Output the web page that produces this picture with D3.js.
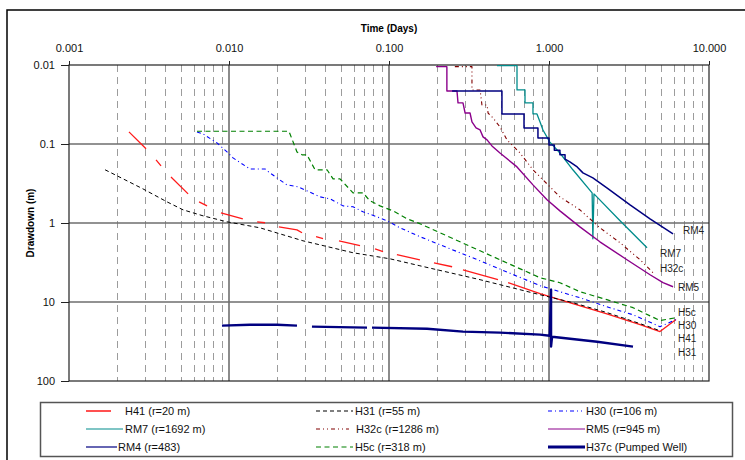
<!DOCTYPE html>
<html>
<head>
<meta charset="utf-8">
<script src="https://cdn.jsdelivr.net/npm/d3@7"></script>
<style>
  body { margin: 0; background: #fff; }
  svg { display: block; }
  text { font-family: "Liberation Sans", Arial, Helvetica, sans-serif; }
</style>
</head>
<body>
<svg id="chart" width="745" height="460"></svg>
<script>
// Axis ticks
const timeTicks = [0.001, 0.01, 0.1, 1, 10];
const drawdownTicks = [0.01, 0.1, 1, 10, 100];

// Observation records: [time (days), drawdown (m)]; null marks a break in the record
const h41 = [
  [0.00237, 0.0703], [0.00303, 0.115], null,
  [0.0035, 0.159], [0.00376, 0.189], null,
  [0.00434, 0.261], [0.00555, 0.428], null,
  [0.0065, 0.540], [0.00729, 0.607], null,
  [0.00891, 0.743], [0.0122, 0.885], null,
  [0.0150, 0.966], [0.0168, 0.993], null,
  [0.0205, 1.12], [0.0266, 1.22], [0.0286, 1.33], null,
  [0.035, 1.49], [0.0387, 1.58], null,
  [0.0487, 1.68], [0.0659, 1.94], null,
  [0.0818, 2.12], [0.0918, 2.31], null,
  [0.112, 2.52], [0.156, 2.92], null,
  [0.191, 3.19], [0.248, 3.58], null,
  [0.290, 3.91], [0.480, 5.22], null,
  [0.555, 5.70], [0.879, 7.85], [1.41, 10.5], [2.30, 14.1], [3.71, 19.4], [4.94, 23.7], [6.22, 16.7]
];

const h31 = [
  [0.00168, 0.212], [0.002, 0.253], [0.0029, 0.370], [0.0041, 0.540], [0.00516, 0.681],
  [0.00688, 0.811], [0.00972, 0.966], [0.0156, 1.15], [0.029, 1.68], [0.0596, 2.38],
  [0.1015, 2.84], [0.156, 3.48], [0.371, 5.22], [0.879, 8.09], [1.41, 10.2],
  [2.30, 13.6], [3.71, 18.8], [4.94, 23.1]
];

const h30 = [
  [0.00631, 0.0703], [0.00688, 0.0745], [0.00841, 0.0968], [0.00972, 0.126], [0.0106, 0.150],
  [0.0135, 0.207], [0.0168, 0.207], [0.018, 0.232], [0.023, 0.329], [0.027, 0.348],
  [0.0307, 0.392], [0.0371, 0.467], [0.0428, 0.494], [0.0516, 0.607], [0.0596, 0.624],
  [0.0688, 0.721], [0.0841, 0.835], [0.0972, 0.937], [0.117, 1.15], [0.156, 1.49],
  [0.371, 3.01], [0.879, 6.22], [1.17, 7.41], [1.56, 8.83], [2.30, 11.5],
  [3.35, 14.5], [4.94, 20.5], [6.22, 16.7]
];

const rm7 = [
  [0.473, 0.0102], [0.631, 0.0102], [0.631, 0.0207], [0.708, 0.0207], [0.708, 0.0302],
  [0.794, 0.0302], [0.794, 0.0416], [0.841, 0.0416], [0.879, 0.0526], [0.917, 0.0664],
  [1.01, 0.094], [1.17, 0.130], [1.41, 0.212], [1.86, 0.415], [1.88, 1.585],
  [1.91, 0.428], [2.78, 0.937], [4.10, 2.06]
];

const h32c = [
  [0.258, 0.0105], [0.330, 0.0105], [0.330, 0.0207], [0.371, 0.0207], [0.381, 0.0321],
  [0.410, 0.0321], [0.416, 0.0405], [0.447, 0.0468], [0.494, 0.0608], [0.546, 0.0887],
  [0.613, 0.112], [0.659, 0.130], [0.794, 0.212], [0.917, 0.284], [1.17, 0.467],
  [1.56, 0.681], [2.08, 1.15], [2.78, 1.78], [3.71, 2.92], [4.47, 4.26]
];

const rm5 = [
  [0.197, 0.0105], [0.230, 0.0105], [0.230, 0.0213], [0.266, 0.0213], [0.270, 0.0302],
  [0.290, 0.0302], [0.299, 0.0405], [0.321, 0.0405], [0.330, 0.0526], [0.350, 0.0625],
  [0.371, 0.0664], [0.387, 0.0813], [0.410, 0.0887], [0.440, 0.1057], [0.494, 0.130],
  [0.631, 0.195], [0.794, 0.329], [0.972, 0.509], [1.17, 0.702], [1.56, 1.12],
  [2.08, 1.73], [3.07, 2.92], [4.28, 4.52], [5.16, 5.70], [5.96, 6.41]
];

const rm4 = [
  [0.248, 0.0213], [0.508, 0.0213], [0.508, 0.0416], [0.698, 0.0416], [0.698, 0.0625],
  [0.853, 0.0625], [0.853, 0.0838], [1.0, 0.0838], [1.0, 0.103], [1.08, 0.103],
  [1.08, 0.120], [1.17, 0.120], [1.17, 0.137], [1.26, 0.137], [1.26, 0.155],
  [1.35, 0.168], [1.50, 0.195], [1.63, 0.232], [1.88, 0.269], [2.30, 0.359],
  [3.21, 0.589], [4.28, 0.885], [5.96, 1.37]
];

const h5c = [
  [0.00631, 0.069], [0.0237, 0.069], [0.0266, 0.126], [0.0286, 0.137], [0.0307, 0.137],
  [0.0345, 0.212], [0.041, 0.212], [0.0447, 0.276], [0.0494, 0.276], [0.0596, 0.415],
  [0.0688, 0.415], [0.076, 0.524], [0.0879, 0.607], [0.106, 0.702], [0.130, 0.885],
  [0.156, 1.02], [0.371, 2.25], [0.879, 4.93], [1.17, 5.70], [1.56, 7.41],
  [2.30, 9.35], [3.35, 11.8], [4.94, 17.2], [6.22, 15.8]
];

const h37c = [
  [0.00904, 19.9], [0.0135, 19.4], [0.020, 19.4], [0.0266, 19.9], null,
  [0.033, 20.5], [0.0729, 21.1], null,
  [0.0783, 21.1], [0.173, 21.8], [0.290, 23.7], [0.494, 24.4], [0.879, 25.9],
  [1.01, 26.7], [1.03, 6.99], [1.03, 36.7], [1.045, 27.5], [2.0, 31.8], [3.35, 36.7]
];

// Legend names in legend order
const legendNames = [
  "H41 (r=20 m)", "H31 (r=55 m)", "H30 (r=106 m)",
  "RM7 (r=1692 m)", "H32c (r=1286 m)", "RM5 (r=945 m)",
  "RM4 (r=483)", "H5c (r=318 m)", "H37c (Pumped Well)"
];

// End-of-curve tags: [text, time, drawdown]
const endTags = [
  ["RM4", 6.88, 1.26], ["RM7", 4.94, 2.45], ["H32c", 4.94, 3.79], ["RM5", 6.40, 6.59],
  ["H5c", 6.40, 13.6], ["H30", 6.40, 19.9], ["H41", 6.40, 29.1], ["H31", 6.40, 43.7]
];

const series = [
  { data: h41,  color: "#ff1a1a", width: 1.3, dash: null },
  { data: h31,  color: "#000000", width: 1,   dash: "4,3" },
  { data: h30,  color: "#0000ff", width: 1.1, dash: "4,3,1,3" },
  { data: rm7,  color: "#008c8c", width: 1.3, dash: null },
  { data: h32c, color: "#800000", width: 1.1, dash: "4,3,1,3,1,3" },
  { data: rm5,  color: "#8b008b", width: 1.4, dash: null },
  { data: rm4,  color: "#000080", width: 1.5, dash: null },
  { data: h5c,  color: "#008000", width: 1.2, dash: "5,3.5" },
  { data: h37c, color: "#000080", width: 2.4, dash: null }
];
series.forEach((s, i) => { s.name = legendNames[i]; });

const svg = d3.select("#chart");
const plot = { left: 69, right: 709, top: 65, bottom: 381 };

const x = d3.scaleLog().domain([0.001, 10]).range([plot.left, plot.right]);
const y = d3.scaleLog().domain([0.01, 100]).range([plot.top, plot.bottom]);

// chart frame
svg.append("rect")
  .attr("x", 7).attr("y", 10).attr("width", 760).attr("height", 470)
  .attr("fill", "#fff").attr("stroke", "#000").attr("stroke-width", 1.5);

// minor vertical gridlines (dashed)
const isMajor = v => timeTicks.some(m => Math.abs(m - v) / m < 1e-9);
const minorTimes = x.ticks().filter(v => !isMajor(v));
svg.append("g").selectAll("line").data(minorTimes).join("line")
  .attr("x1", d => Math.round(x(d)) + 0.5).attr("x2", d => Math.round(x(d)) + 0.5)
  .attr("y1", plot.top).attr("y2", plot.bottom)
  .attr("stroke", "#9c9c9c").attr("stroke-width", 1).attr("stroke-dasharray", "7,5");

// major gridlines
svg.append("g").selectAll("line").data(timeTicks.slice(1, -1)).join("line")
  .attr("x1", d => x(d)).attr("x2", d => x(d))
  .attr("y1", plot.top).attr("y2", plot.bottom)
  .attr("stroke", "#6e6e6e").attr("stroke-width", 1.6);
svg.append("g").selectAll("line").data(drawdownTicks.slice(1, -1)).join("line")
  .attr("x1", plot.left).attr("x2", plot.right)
  .attr("y1", d => y(d)).attr("y2", d => y(d))
  .attr("stroke", "#6e6e6e").attr("stroke-width", 1.6);

// plot border
svg.append("rect")
  .attr("x", plot.left).attr("y", plot.top)
  .attr("width", plot.right - plot.left).attr("height", plot.bottom - plot.top)
  .attr("fill", "none").attr("stroke", "#222").attr("stroke-width", 1.2);

// axes
const topAxis = svg.append("g").attr("transform", `translate(0,${plot.top})`)
  .call(d3.axisTop(x).tickValues(timeTicks).tickFormat(d3.format(".3f")).tickSize(4).tickPadding(9));
const leftAxis = svg.append("g").attr("transform", `translate(${plot.left},0)`)
  .call(d3.axisLeft(y).tickValues(drawdownTicks).tickFormat(d => String(d)).tickSize(8).tickPadding(6));
[topAxis, leftAxis].forEach(g => {
  g.select(".domain").remove();
  g.selectAll(".tick line").attr("stroke", "#222");
  g.selectAll(".tick text").attr("font-size", 11).attr("fill", "#111")
    .attr("font-family", "\"Liberation Sans\", Arial, sans-serif");
});

// axis titles
svg.append("text")
  .attr("x", (plot.left + plot.right) / 2).attr("y", 31.5)
  .attr("text-anchor", "middle").attr("font-size", 10).attr("font-weight", "bold")
  .text("Time (Days)");
svg.append("text")
  .attr("transform", `translate(34,${(plot.top + plot.bottom) / 2}) rotate(-90)`)
  .attr("text-anchor", "middle").attr("font-size", 10).attr("font-weight", "bold")
  .text("Drawdown (m)");

// curves
svg.append("clipPath").attr("id", "plotClip").append("rect")
  .attr("x", plot.left).attr("y", plot.top - 2)
  .attr("width", plot.right - plot.left).attr("height", plot.bottom - plot.top + 4);

const line = d3.line()
  .defined(d => d !== null)
  .x(d => x(d[0]))
  .y(d => y(d[1]));

const curves = svg.append("g").attr("clip-path", "url(#plotClip)");
series.forEach(s => {
  curves.append("path")
    .attr("d", line(s.data))
    .attr("fill", "none")
    .attr("stroke", s.color)
    .attr("stroke-width", s.width)
    .attr("stroke-linejoin", "round")
    .attr("stroke-dasharray", s.dash);
});

// end-of-curve tags
svg.append("g").selectAll("text").data(endTags).join("text")
  .attr("x", d => x(d[1])).attr("y", d => y(d[2]))
  .attr("dy", "0.35em")
  .attr("font-size", 10).attr("fill", "#222")
  .text(d => d[0]);

// legend
const legend = svg.append("g");
legend.append("rect")
  .attr("x", 40.5).attr("y", 402.5).attr("width", 692).attr("height", 54)
  .attr("fill", "#fff").attr("stroke", "#555").attr("stroke-width", 1.5);

const colLineX = [86, 316, 548];
const itemTextX = [125, 355, 586, 125, 356, 586, 118, 355, 586];
const itemLineEnd = [111, 353, 582, 123, 349, 585, 117, 353, 585];
const rowY = [411, 429, 447];

series.forEach((s, i) => {
  const col = i % 3, row = Math.floor(i / 3);
  legend.append("line")
    .attr("x1", colLineX[col]).attr("x2", itemLineEnd[i])
    .attr("y1", rowY[row]).attr("y2", rowY[row])
    .attr("stroke", i === 0 ? "#ff5050" : s.color)
    .attr("stroke-width", i === 8 ? 3 : (i === 0 ? 2 : 1.2))
    .attr("stroke-dasharray", s.dash);
  legend.append("text")
    .attr("x", itemTextX[i]).attr("y", rowY[row])
    .attr("dy", "0.35em").attr("font-size", 11).attr("fill", "#111")
    .text(s.name);
});
</script>
</body>
</html>
